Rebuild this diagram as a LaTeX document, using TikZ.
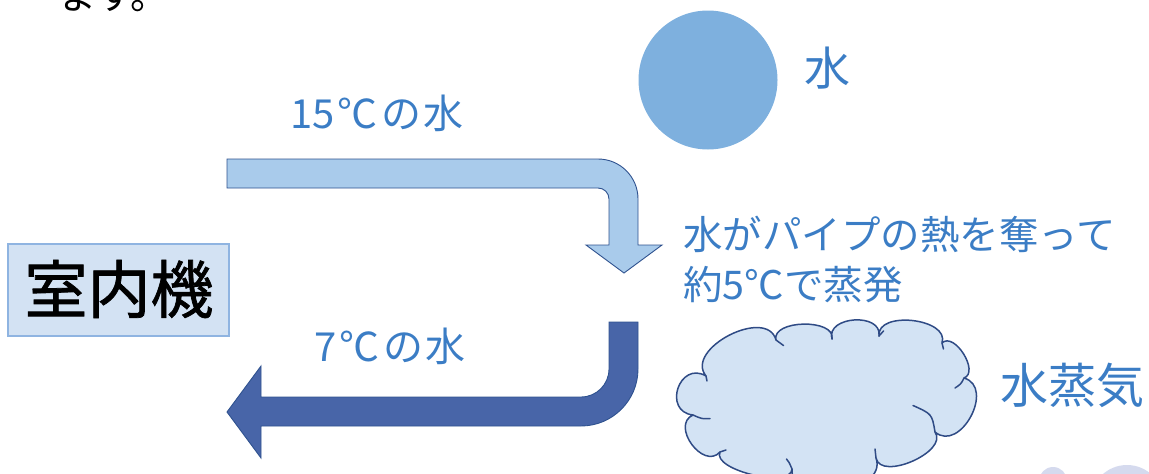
\documentclass[tikz,border=0pt]{standalone}
\usepackage{fontspec}
\newfontfamily\jpfont{Noto Sans CJK JP}
\newfontfamily\jpboldfont[FakeBold=1.2]{Noto Sans CJK JP}
\usetikzlibrary{calc}
\definecolor{txtblue}{RGB}{59,125,197}
\definecolor{warmfill}{RGB}{169,203,235}
\definecolor{coldfill}{RGB}{72,101,168}
\definecolor{arrowline}{RGB}{47,82,143}
\definecolor{boxfill}{RGB}{211,226,243}
\definecolor{boxline}{RGB}{143,180,225}
\definecolor{dropfill}{RGB}{126,176,222}
\definecolor{cloudfill}{RGB}{211,227,244}
\definecolor{cloudline}{RGB}{47,75,133}
\definecolor{faintfill}{RGB}{213,218,238}
\newcommand\cloudpuff[4]{.. controls ($(#1)!#3!-#4:(#2)$) and ($(#2)!#3!#4:(#1)$) .. (#2)}
\tikzset{
  jp/.style={font=\jpfont\fontsize{#1}{#1}\selectfont, inner sep=0pt},
  bluetext/.style={jp=#1, text=txtblue},
  warmarrow/.style={fill=warmfill, draw=arrowline, line width=0.9pt, line join=miter},
  coldarrow/.style={fill=coldfill, draw=arrowline, line width=0.9pt, line join=miter},
  cloudedge/.style={draw=cloudline, line width=1.5pt, line cap=round},
}
\begin{document}
\begin{tikzpicture}[x=1pt, y=1pt, yscale=-1]
\useasboundingbox (0,0) rectangle (1149,474);
\clip (0,0) rectangle (1149,474);

% cut-off text at the top
\node[jp=38, anchor=base west] (topline) at (58,9) {ます。};

% indoor unit box
\node[draw=boxline, fill=boxfill, line width=1.2pt, minimum width=221pt, minimum height=92pt, inner sep=0pt] (unit) at (118.5,290) {};
\node[inner sep=0pt, font=\jpboldfont\fontsize{63}{63}\selectfont] (unitlabel) at (119,289) {室内機};

% warm water arrow (15C)
\path[warmarrow] (227,159) -- (598,159) arc[start angle=-90, end angle=0, radius=40pt]
  -- (638,245) -- (662,245) -- (624,273) -- (586,245) -- (609,245) -- (609,199)
  arc[start angle=0, end angle=-90, radius=11pt] -- (227,188) -- cycle;

% cold water arrow (7C)
\path[coldarrow] (609,322) -- (638,322) -- (638,369) arc[start angle=0, end angle=90, radius=57pt]
  -- (261,426) -- (261,458) -- (227,412) -- (261,366) -- (261,397) -- (581,397)
  arc[start angle=90, end angle=0, radius=28pt] -- cycle;

\node[bluetext=40] (warmlabel) at (377,113) {15\kern3pt℃\kern4ptの\kern2pt水};
\node[bluetext=40] (coldlabel) at (390,346) {7\kern3pt℃\kern4ptの\kern2pt水};

% water drop
\fill[dropfill] (708,80) circle[radius=69.5pt];
\node[bluetext=46] (waterlabel) at (827,68) {水};

% explanation
\node[bluetext=39.5, anchor=west] (expl1) at (683,234) {水がパイプの熱を奪って};
\node[bluetext=39.5, anchor=west] (expl2) at (683,285) {約5℃で蒸発};

% faint shapes at bottom right
\fill[faintfill] (1053,481) circle[radius=14pt];
\fill[faintfill] (1127,501.5) circle[radius=36.5pt];

% cloud (steam)
\coordinate (j1) at (706,376);
\coordinate (j11) at (776,340);
\coordinate (j10) at (832,339);
\coordinate (j9) at (879,336);
\coordinate (j8) at (942,343);
\coordinate (j7) at (964,378);
\coordinate (j6) at (935,432);
\coordinate (j5) at (876,458);
\coordinate (j4) at (792,469);
\coordinate (j3) at (720,452);
\coordinate (j2) at (693,415);
\path[fill=cloudfill, cloudedge, line join=round] (j1)
  \cloudpuff{j1}{j11}{35pt}{102}
  \cloudpuff{j11}{j10}{21pt}{102}
  \cloudpuff{j10}{j9}{24pt}{102}
  \cloudpuff{j9}{j8}{26pt}{102}
  \cloudpuff{j8}{j7}{17pt}{102}
  \cloudpuff{j7}{j6}{33pt}{102}
  \cloudpuff{j6}{j5}{24pt}{102}
  \cloudpuff{j5}{j4}{38pt}{102}
  \cloudpuff{j4}{j3}{20pt}{102}
  \cloudpuff{j3}{j2}{25pt}{102}
  \cloudpuff{j2}{j1}{31pt}{102}
  -- cycle;
% inner arcs of the cloud
\draw[cloudedge] (j1) -- (707,381);
\draw[cloudedge] (j2) .. controls (702,419) .. (710,418.5);
\draw[cloudedge] (j3) .. controls (723,450.5) .. (726,450);
\draw[cloudedge] (j4) .. controls (789,462) .. (786.5,459);
\draw[cloudedge] (j5) .. controls (876,453) .. (875,449);
\draw[cloudedge] (j6) .. controls (932,414) .. (913,405.5);
\draw[cloudedge] (j7) .. controls (961,384) .. (955,388);
\draw[cloudedge] (j8) .. controls (943,346) .. (943.5,349);
\draw[cloudedge] (j9) .. controls (880.5,333) .. (883.5,331);
\draw[cloudedge] (j10) .. controls (831.5,337) .. (831.5,335);
\draw[cloudedge] (j11) .. controls (780,342) .. (783.5,345.5);

\node[bluetext=48] (steamlabel) at (1072,385) {水蒸気};
\end{tikzpicture}
\end{document}
